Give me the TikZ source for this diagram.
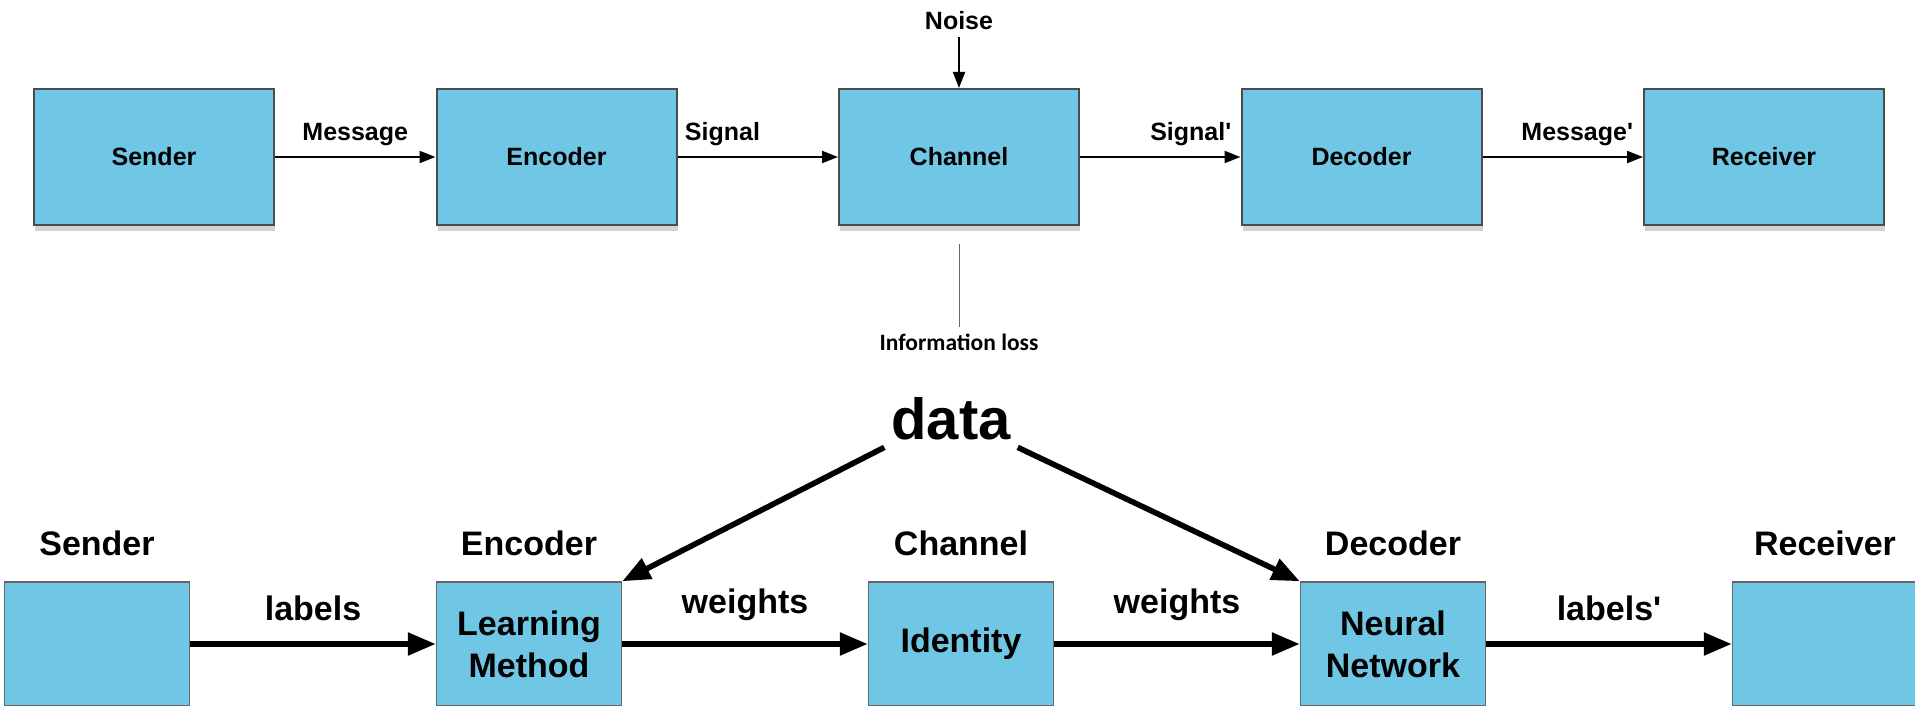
\documentclass[tikz,border=0pt]{standalone}
\usepackage{fontspec}
\setmainfont{Liberation Sans}
\newfontfamily\calfont{Carlito}
\usetikzlibrary{arrows.meta,positioning,shadows}
\definecolor{boxblue}{RGB}{112,199,229}
\tikzset{
        topbox/.style={draw=black!70, line width=1pt, fill=boxblue,
            minimum width=120pt, minimum height=68pt, inner sep=0pt,
            font=\bfseries\fontsize{12.5}{15}\selectfont,
            drop shadow={shadow xshift=0.5pt, shadow yshift=-3pt, opacity=0.35}},
        lowbox/.style={draw=black!60, line width=0.75pt, fill=boxblue,
            minimum width=92.5pt, minimum height=62pt, inner sep=0pt, align=center,
            font=\bfseries\fontsize{17}{21}\selectfont},
        toplabel/.style={font=\bfseries\fontsize{12.5}{15}\selectfont},
        lowlabel/.style={font=\bfseries\fontsize{17}{21}\selectfont},
        thin arrow/.style={-{Triangle[length=8pt,width=6pt]}, line width=1pt},
        thick arrow/.style={-{Triangle[length=14pt,width=11pt]}, line width=2.8pt},
    }

\begin{document}
\begin{tikzpicture}[x=0.5pt, y=-0.5pt]
    \useasboundingbox (0,0) rectangle (1915,706);
    \clip (0,0) rectangle (1915,706);
    % communication model
    \foreach \nm/\txt [count=\i] in {sender/Sender, encoder/Encoder, channel/Channel, decoder/Decoder, receiver/Receiver}
    {
        \node[topbox] (\nm) at ({154+402.5*(\i-1)},157) {\txt};
    }
    \draw[thin arrow] (sender) -- node[toplabel, above=2pt] {Message} (encoder);
    \draw[thin arrow] (encoder) -- node[toplabel, above=2pt, pos=0.28] {Signal} (channel);
    \draw[thin arrow] (channel) -- node[toplabel, above=2pt, pos=0.69] {Signal\textquotesingle} (decoder);
    \draw[thin arrow] (decoder) -- node[toplabel, above=2pt, pos=0.59] {Message\textquotesingle} (receiver);
    \node[toplabel] (noise) at (959,21) {Noise};
    \draw[thin arrow] (noise) -- (channel);
    \node[font=\calfont\bfseries\fontsize{11.75}{14}\selectfont] (loss) at (959,342) {Information loss};
    \draw[black!60, line width=0.5pt, shorten <=9pt] (channel) -- (loss);
    % learning as communication
    \node[font=\bfseries\fontsize{29}{34}\selectfont] (data) at (951,419) {data};
    \foreach \nm/\txt/\ttl [count=\i] in {bsender/{}/Sender, learner/{Learning\\Method}/Encoder, identity/Identity/Channel, network/{Neural\\Network}/Decoder, breceiver/{}/Receiver}
    {
        \node[lowbox] (\nm) at ({97+432*(\i-1)},644) {\txt};
        \node[lowlabel, above=9pt of \nm] (title\i) {\ttl};
    }
    \draw[thick arrow] (bsender) -- node[lowlabel, above=7pt] {labels} (learner);
    \draw[thick arrow] (learner) -- node[lowlabel, above=7pt] {weights} (identity);
    \draw[thick arrow] (identity) -- node[lowlabel, above=7pt] {weights} (network);
    \draw[thick arrow] (network) -- node[lowlabel, above=7pt] {labels\textquotesingle} (breceiver);
    \draw[thick arrow] (data.south west) -- (learner.north east);
    \draw[thick arrow] (data.south east) -- (network.north west);
\end{tikzpicture}
\end{document}
